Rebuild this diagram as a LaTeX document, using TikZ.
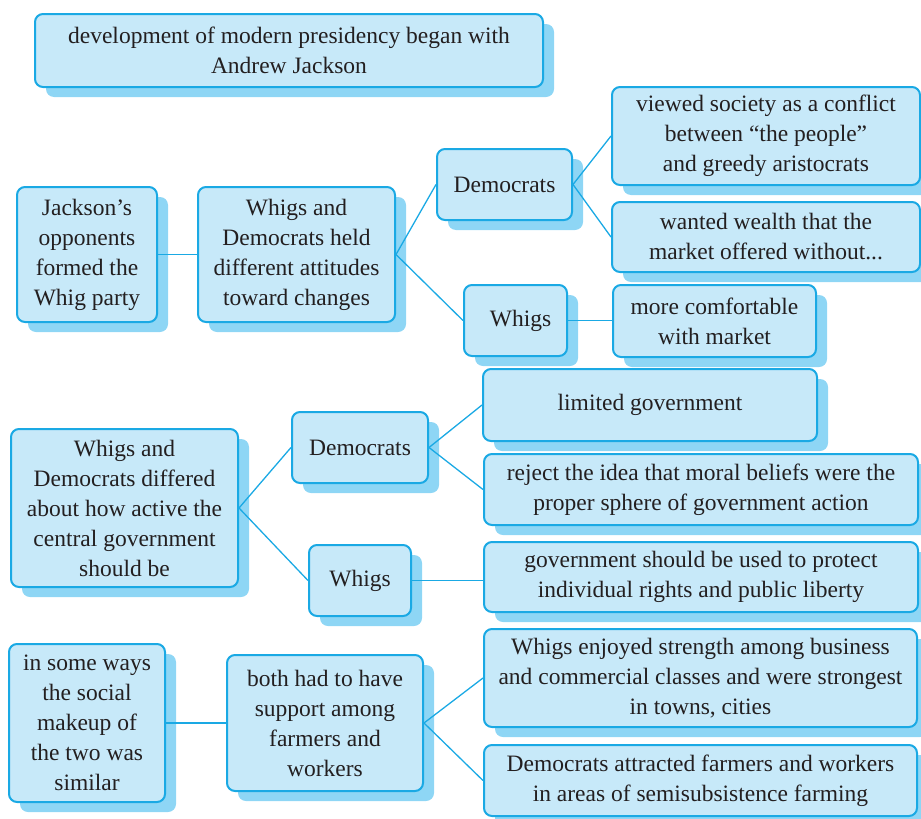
\documentclass[tikz,border=0pt]{standalone}
\usepackage{fontspec}
\setmainfont{Liberation Serif}
\usetikzlibrary{shadows}
\definecolor{boxfill}{HTML}{C7E9F9}
\definecolor{boxline}{HTML}{1AA9E4}
\definecolor{shadowc}{HTML}{8ED6F5}
\definecolor{textc}{HTML}{231F20}
\tikzset{
  cbox/.style={draw=boxline, line width=2pt, fill=boxfill, rounded corners=8pt,
    inner sep=0pt, align=center, text=textc,
    font=\fontsize{23.5}{30}\selectfont,
    drop shadow={shadow xshift=11pt, shadow yshift=-10pt, fill=shadowc, opacity=1, draw=none}},
  link/.style={draw=boxline, line width=1.3pt}
}
\newcommand{\bx}[6]{\node[cbox, minimum width=#4pt, minimum height=#5pt] (#1) at (#2,#3) {#6};}
\begin{document}
\begin{tikzpicture}[x=1pt,y=-1pt]
\useasboundingbox (0,0) rectangle (921,819);
\bx{top}{289}{50.5}{508}{73}{development of modern presidency began with\\Andrew Jackson}
\bx{jack}{87}{254.5}{140}{135}{Jackson’s\\opponents\\formed the\\Whig party}
\bx{held}{296.5}{254.5}{197}{135}{Whigs and\\Democrats held\\different attitudes\\toward changes}
\bx{demA}{504.5}{184.5}{135}{71}{Democrats}
\bx{whigA}{515.5}{320.5}{103}{71}{\hspace*{10pt}Whigs}
\bx{viewed}{766}{136}{308}{98}{viewed society as a conflict\\between “the people”\\and greedy aristocrats}
\bx{wanted}{766}{237}{308}{70}{wanted wealth that the\\market offered without...}
\bx{comfort}{714.5}{321}{203}{72}{more comfortable\\with market}
\bx{differed}{124.5}{508}{227}{158}{Whigs and\\Democrats differed\\about how active the\\central government\\should be}
\bx{demB}{360}{447.5}{136}{71}{Democrats}
\bx{whigB}{360}{580.5}{102}{71}{Whigs}
\bx{limited}{650}{405}{334}{72}{limited government}
\bx{reject}{701}{489.5}{434}{71}{reject the idea that moral beliefs were the\\proper sphere of government action}
\bx{govt}{701}{577}{434}{70}{government should be used to protect\\individual rights and public liberty}
\bx{someways}{87}{723}{156}{158}{in some ways\\the social\\makeup of\\the two was\\similar}
\bx{both}{325}{723}{196}{136}{both had to have\\support among\\farmers and\\workers}
\bx{enjoyed}{700.5}{678}{433}{98}{Whigs enjoyed strength among business\\and commercial classes and were strongest\\in towns, cities}
\bx{attracted}{700.5}{780.5}{433}{71}{Democrats attracted farmers and workers\\in areas of semisubsistence farming}
\draw[link] (jack.east) -- (held.west);
\draw[link] (held.east) -- (demA.west);
\draw[link] (held.east) -- (whigA.west);
\draw[link] (demA.east) -- (viewed.west);
\draw[link] (demA.east) -- (wanted.west);
\draw[link] (whigA.east) -- (whigA.east -| comfort.west);
\draw[link] (differed.east) -- (demB.west);
\draw[link] (differed.east) -- (whigB.west);
\draw[link] (demB.east) -- (limited.west);
\draw[link] (demB.east) -- (reject.west);
\draw[link] (whigB.east) -- (whigB.east -| govt.west);
\draw[link] (someways.east) -- (both.west);
\draw[link] (both.east) -- (enjoyed.west);
\draw[link] (both.east) -- (attracted.west);
\end{tikzpicture}
\end{document}
